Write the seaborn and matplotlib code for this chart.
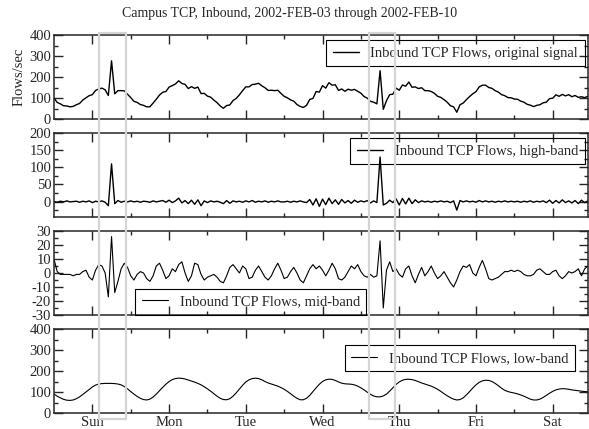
import numpy as np
import pandas as pd
import matplotlib
matplotlib.use("Agg")
import matplotlib.pyplot as plt
import matplotlib.transforms as mtransforms
from matplotlib.patches import Rectangle
from matplotlib.ticker import MultipleLocator, FixedLocator
import seaborn as sns

# hourly samples, Sun 2002-02-03 00:00 onward
hours = np.arange(168)
day_names = ["Sun", "Mon", "Tue", "Wed", "Thu", "Fri", "Sat"]

# low-band (daily trend), flows/sec
low_band = [
    90, 80, 72, 65, 61, 60, 62, 68, 77, 88, 100, 112, 124, 133, 138, 140, 141, 141, 141, 140, 138, 134, 126, 115,
    102, 90, 79, 70, 64, 62, 66, 76, 90, 106, 122, 137, 150, 159, 164, 166, 165, 162, 157, 152, 147, 141, 134, 125,
    115, 104, 92, 80, 70, 64, 63, 68, 80, 96, 114, 132, 148, 158, 164, 166, 164, 158, 150, 143, 138, 133, 128, 121,
    113, 103, 92, 80, 70, 63, 63, 70, 84, 102, 120, 137, 150, 158, 161, 160, 155, 148, 142, 139, 138, 137, 134, 128,
    120, 110, 99, 89, 81, 77, 77, 81, 90, 104, 120, 136, 148, 156, 160, 161, 159, 155, 149, 143, 138, 133, 128, 121,
    113, 103, 92, 82, 73, 66, 62, 64, 72, 86, 102, 119, 134, 146, 153, 156, 155, 150, 141, 130, 118, 108, 102, 98,
    95, 91, 86, 80, 73, 66, 62, 62, 66, 74, 84, 94, 103, 110, 114, 116, 115, 113, 110, 108, 106, 104, 102, 101,
]

# mid-band (hours-scale oscillation)
mid_band = [
    10, 1, -1, -1, -1, -1, -2, -1, -1, 1, 2, -3, -5, 2, 6, 5, 0, -17, 26, -14, -6, 3, 7, 4,
    -2, -5, -1, 1, 0, -4, -6, -2, 5, 7, 2, -4, -2, 3, 1, 6, 8, 0, -6, -2, 7, 6, -1, -5,
    -3, -2, -1, -3, -6, -7, -2, 4, 6, 3, 0, 5, 3, -4, -3, 2, 5, 1, -3, -5, -2, 3, 7, 2,
    -4, -3, 1, 4, 0, -5, -7, -2, 3, 6, 3, 5, 2, -2, 2, 7, 3, -4, -5, -3, 1, 5, 3, 6,
    1, -2, -3, -1, -3, -2, 23, -25, 2, 8, 1, 3, -1, -3, 3, 5, -2, -7, -1, 4, -2, 1, 5, 0,
    -4, -2, 1, -3, -7, -10, -5, 1, 5, 4, 6, 0, -2, 4, 9, 3, -4, -5, -4, -3, -1, 1, 1, 2,
    1, 2, 1, -1, -2, -2, -1, 2, 3, 1, -1, -1, 1, 2, -2, -4, -2, 1, 0, 1, 3, -2, 3, 5,
]

# high-band (fast fluctuations and spikes)
high_band = [
    0, -2, 1, -1, 2, -1, 0, 1, -2, 1, -1, 2, -3, 1, -1, 2, -2, -12, 110, -6, 3, -2, 1, -1,
    2, -1, 1, -2, 1, 0, -2, 2, -1, 1, 3, -2, 4, -3, 2, 10, -4, 3, -6, 4, -8, 5, -12, 2,
    -3, 2, -1, 1, -2, -6, 3, -5, 2, -1, 1, -2, 2, -1, 3, -2, 1, -1, 2, -2, 1, -1, 2, -1,
    -1, 1, -2, 1, -1, 2, -1, -3, 6, -10, 8, -14, 7, -9, 10, -6, 5, -8, 6, -4, 3, -5, 4, -2,
    2, -1, 3, -4, 2, -3, 130, -10, -5, 4, -3, 8, -10, 9, -7, 10, -6, 5, -3, 2, -1, 1, -2, 1,
    -1, 2, -1, 1, -3, 2, -25, 3, -1, 2, -1, 1, -2, 3, -1, 2, -1, 1, -2, 1, -1, 2, -1, 1,
    -1, 1, -2, 1, -1, 2, -2, 1, -1, 2, -3, 4, -5, 3, -4, 5, -3, 2, -4, 3, -6, 4, -3, 2,
]

df = pd.DataFrame({
    "day": hours / 24.0,
    "low": low_band,
    "mid": mid_band,
    "high": high_band,
})
# original signal = sum of the three bands
df["orig"] = df["low"] + df["mid"] + df["high"]

sns.set_style("ticks")
plt.rcParams["font.family"] = ["Liberation Serif", "DejaVu Serif"]
plt.rcParams["axes.unicode_minus"] = False
plt.rcParams["font.size"] = 10.5

fig = plt.figure(figsize=(5.89, 4.29), dpi=100)
W, H = 589.0, 429.0
left, right = 54, 588
panels = [(35, 119), (133, 217), (231, 315), (329, 413)]
axes = [fig.add_axes([left / W, 1 - b / H, (right - left) / W, (b - t) / H]) for t, b in panels]

series = [
    ("orig", "Inbound TCP Flows, original signal", (0, 400), 100, 50, 1.0),
    ("high", "Inbound TCP Flows, high-band", (-45, 200), 50, 25, 1.0),
    ("mid", "Inbound TCP Flows, mid-band", (-30, 30), 10, 5, 0.8),
    ("low", "Inbound TCP Flows, low-band", (0, 400), 100, 50, 0.8),
]
legend_pos = [
    ("upper right", (0.994, 0.94)),
    ("upper right", (0.994, 0.94)),
    ("lower left", (0.152, 0.0)),
    ("upper right", (0.976, 0.81)),
]

for ax, (col, lab, ylim, maj, mnr, lw), (loc, anchor) in zip(axes, series, legend_pos):
    sns.lineplot(data=df, x="day", y=col, ax=ax, color="black", linewidth=lw, label=lab)
    ax.set_xlim(0, 6.96)
    ax.set_ylim(*ylim)
    ax.yaxis.set_major_locator(MultipleLocator(maj))
    ax.yaxis.set_minor_locator(MultipleLocator(mnr))
    ax.xaxis.set_major_locator(FixedLocator([d + 0.5 for d in range(7)]))
    ax.xaxis.set_minor_locator(FixedLocator(list(range(1, 7))))
    ax.set_xticklabels(day_names)
    ax.set_xlabel("")
    ax.set_ylabel("")
    ax.tick_params(which="both", direction="in", top=True, right=True, width=1.0)
    ax.tick_params(which="major", length=6.5, labelsize=10.5, pad=2)
    ax.tick_params(which="minor", length=3)
    for s in ax.spines.values():
        s.set_linewidth(1.1)
        s.set_visible(True)
    leg = ax.legend(loc=loc, bbox_to_anchor=anchor, borderaxespad=0, fontsize=10.5,
                    fancybox=False, edgecolor="black", facecolor="none", framealpha=1,
                    handlelength=1.8, handletextpad=0.8, borderpad=0.45)
    leg.get_frame().set_linewidth(0.8)

for ax in axes[:-1]:
    ax.tick_params(labelbottom=False)

axes[0].set_ylabel("Flows/sec", fontsize=10.5, labelpad=3)
fig.text(0.492, 1 - 14 / H, "Campus TCP, Inbound, 2002-FEB-03 through 2002-FEB-10",
         ha="center", va="center", fontsize=10)

# highlighted intervals spanning all panels
trans = mtransforms.blended_transform_factory(axes[-1].transData, fig.transFigure)
for x0, x1 in [(0.59, 0.94), (4.11, 4.45)]:
    fig.add_artist(Rectangle((x0, 1 - 419 / H), x1 - x0, (419 - 33) / H, transform=trans,
                             fill=False, edgecolor="#d4d4d4", linewidth=1.6, zorder=10))

fig.savefig("out.png", dpi=100)
